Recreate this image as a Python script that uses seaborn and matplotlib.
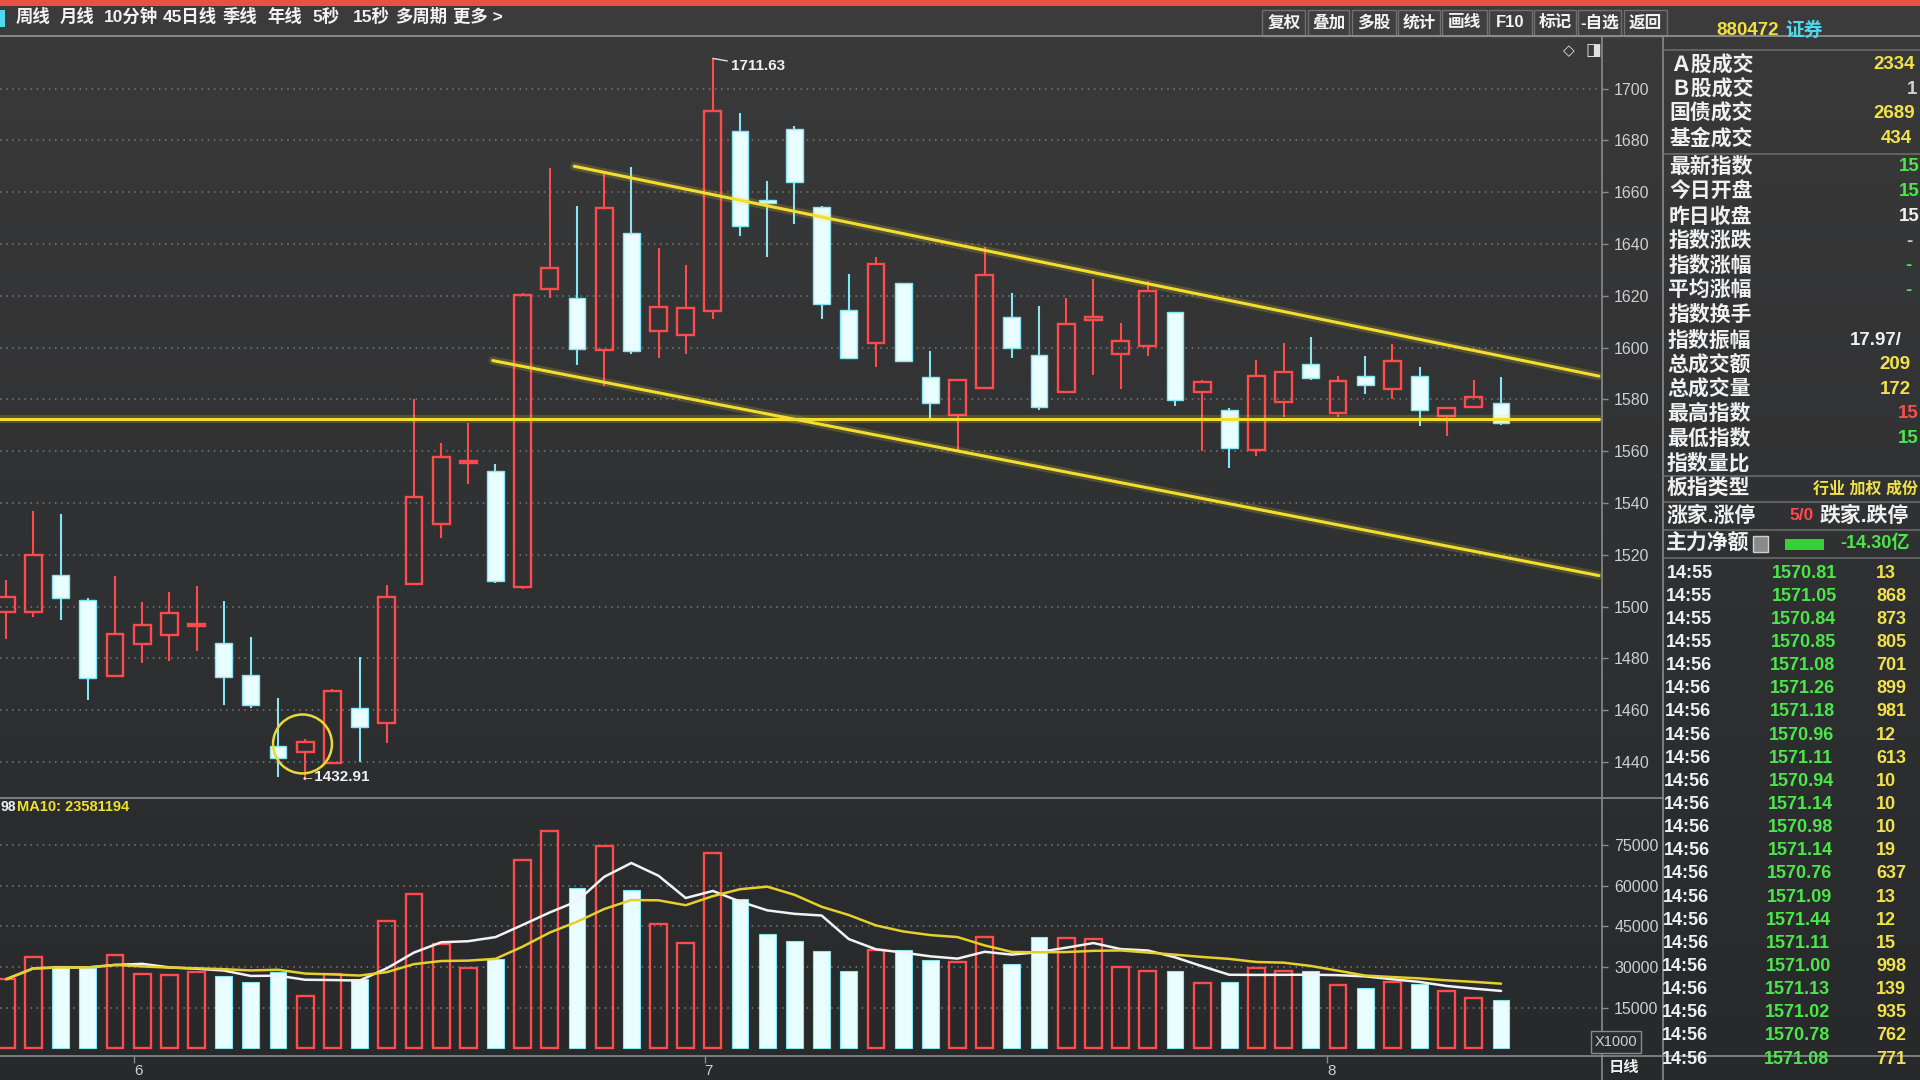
import numpy as np
import pandas as pd
import matplotlib.pyplot as plt
import seaborn as sns
from matplotlib.colors import LinearSegmentedColormap
from matplotlib.lines import Line2D
from matplotlib.patches import Rectangle

sns.set_theme(style="dark")
plt.rcParams['font.family'] = ['Liberation Sans', 'Noto Sans CJK SC', 'DejaVu Sans']
plt.rcParams['axes.unicode_minus'] = False

# ---- 日K线数据 (880472 证券) ----
opens = [1498.0, 1498.0, 1512.3, 1502.5, 1473.2, 1485.6, 1488.9, 1492.4, 1486.0, 1473.5,
         1446.1, 1443.9, 1439.5, 1460.8, 1455.0, 1508.7, 1532.1, 1555.5, 1552.5, 1507.6,
         1622.6, 1619.1, 1599.1, 1644.4, 1606.4, 1605.0, 1614.0, 1683.8, 1656.8, 1684.5,
         1654.4, 1614.7, 1601.6, 1624.8, 1588.5, 1574.0, 1584.3, 1612.0, 1597.1, 1582.8,
         1610.5, 1597.7, 1600.6, 1613.7, 1582.8, 1575.9, 1560.3, 1578.9, 1593.6, 1574.6,
         1588.9, 1584.1, 1588.9, 1573.7, 1577.2, 1578.5]
highs = [1510.4, 1537.0, 1535.8, 1503.5, 1511.7, 1501.9, 1505.8, 1507.8, 1502.2, 1488.2,
         1464.8, 1449.1, 1468.3, 1480.4, 1508.4, 1580.0, 1563.1, 1571.0, 1555.0, 1621.0,
         1669.3, 1654.8, 1667.2, 1669.6, 1638.6, 1631.7, 1711.63, 1690.7, 1664.5, 1685.6,
         1654.6, 1628.5, 1635.0, 1625.0, 1598.5, 1587.6, 1638.9, 1621.0, 1615.9, 1619.2,
         1626.3, 1609.4, 1625.7, 1613.9, 1587.6, 1576.7, 1595.1, 1601.6, 1604.2, 1588.9,
         1596.7, 1601.2, 1592.5, 1576.5, 1587.6, 1588.6]
lows = [1487.6, 1496.0, 1494.7, 1464.1, 1473.0, 1478.4, 1479.1, 1483.0, 1462.1, 1460.8,
        1434.1, 1432.91, 1439.3, 1440.0, 1447.4, 1508.5, 1526.6, 1547.5, 1509.0, 1507.0,
        1619.3, 1593.3, 1585.0, 1597.4, 1595.8, 1597.7, 1611.0, 1643.0, 1635.0, 1647.9,
        1611.0, 1595.8, 1592.6, 1594.5, 1572.6, 1560.1, 1584.0, 1596.0, 1575.9, 1582.6,
        1589.3, 1584.1, 1596.7, 1577.6, 1560.0, 1553.5, 1558.1, 1573.3, 1587.6, 1573.3,
        1581.9, 1580.2, 1569.8, 1565.9, 1576.9, 1570.2]
closes = [1503.8, 1520.1, 1503.2, 1472.6, 1489.5, 1492.8, 1497.7, 1493.0, 1473.0, 1462.1,
          1441.7, 1447.8, 1467.4, 1453.7, 1503.8, 1542.5, 1557.9, 1556.2, 1510.0, 1620.2,
          1630.6, 1599.5, 1653.8, 1598.5, 1615.8, 1615.1, 1691.4, 1646.9, 1656.0, 1664.1,
          1616.8, 1596.1, 1632.3, 1594.7, 1578.8, 1587.5, 1627.9, 1600.0, 1577.2, 1609.0,
          1612.0, 1602.7, 1621.8, 1579.8, 1586.9, 1561.1, 1588.9, 1590.6, 1588.4, 1587.3,
          1585.6, 1594.7, 1575.9, 1576.5, 1580.8, 1570.8]
# 成交量 (X1000)
volumes = [25500, 33500, 30500, 29800, 34500, 27500, 27000, 28000, 26500, 24500,
           28000, 19500, 27500, 25500, 47000, 57000, 38500, 29500, 33000, 69500,
           80000, 59000, 74500, 58500, 46000, 39000, 72000, 55000, 42300, 39600,
           35900, 28600, 36200, 36300, 32600, 31700, 41200, 31000, 41000, 40600,
           40300, 30100, 28400, 28500, 24100, 24600, 29800, 28600, 28700, 23300,
           22300, 24600, 23600, 21200, 18500, 18000]

# 画线 (K线序号, 指数)
upper_x = [20.9, 58.6]
upper_y = [1670.0, 1589.0]
lower_x = [17.9, 58.6]
lower_y = [1595.0, 1512.0]
flat_x = [-0.5, 58.6]
flat_y = [1572.5, 1572.5]

month_pos = [4.7, 25.7, 48.6]
month_labels = ['6', '7', '8']

price_ticks = list(range(1440, 1701, 20))
vol_ticks = [15000, 30000, 45000, 60000, 75000]

menu_items = ['周线', '月线', '10分钟', '45日线', '季线', '年线', '5秒', '15秒', '多周期', '更多 >']
menu_x = [13, 49, 85, 133, 182, 218, 255, 288, 323, 370]
tool_items = ['复权', '叠加', '多股', '统计', '画线', 'F10', '标记', '-自选', '返回']
tool_edges = [1030, 1067, 1103, 1141, 1177, 1215, 1252, 1288, 1325, 1362]

info_labels = ['Ａ股成交', 'Ｂ股成交', '国债成交', '基金成交', '最新指数', '今日开盘', '昨日收盘',
               '指数涨跌', '指数涨幅', '平均涨幅', '指数换手', '指数振幅', '总成交额', '总成交量',
               '最高指数', '最低指数', '指数量比', '板指类型', '涨家.涨停', '主力净额']
info_y = [53, 73, 93, 113, 136, 156, 177, 197, 217, 237, 257, 278, 298, 318, 338, 358, 378,
          399, 421, 444]

tick_times = ['14:55'] * 4 + ['14:56'] * 18
tick_prices = ['1570.81', '1571.05', '1570.84', '1570.85', '1571.08', '1571.26', '1571.18',
               '1570.96', '1571.11', '1570.94', '1571.14', '1570.98', '1571.14', '1570.76',
               '1571.09', '1571.44', '1571.11', '1571.00', '1571.13', '1571.02', '1570.78',
               '1571.08']
tick_vols = ['13', '868', '873', '805', '701', '899', '981', '12', '613', '10', '10', '10',
             '19', '637', '13', '12', '15', '998', '139', '935', '762', '771']

RED = '#ff4b4b'
CYAN_EDGE = '#86e6f4'
CYAN_FILL = '#e8feff'
YEL = '#f3dd30'
GREEN = '#4ae64a'
NUMYEL = '#f2e24a'
WHITE = '#f0f0f0'
GRID = '#7a7a7a'
FRAME = '#8a8a8a'
AXTXT = '#cfcfcf'

W, H = 1568.0, 882.0


def fx(xd):
    return xd / W


def fy(yd):
    return 1 - yd / H


fig = plt.figure(figsize=(19.2, 10.8), dpi=100)
fig.patch.set_facecolor('#2c2d2e')


def put(xd, yd, s, **kw):
    kw.setdefault('va', 'center')
    kw.setdefault('ha', 'left')
    return fig.text(fx(xd), fy(yd), s, **kw)


def fline(xs, ys, color=FRAME, lw=1.2):
    fig.add_artist(Line2D([fx(x) for x in xs], [fy(y) for y in ys],
                          transform=fig.transFigure, color=color, lw=lw))


# 背景 (屏幕照片的明暗)
bg = fig.add_axes([0, 0, 1, 1], zorder=-10)
bg_cmap = LinearSegmentedColormap.from_list('bg', ['#3a3a3b', '#303132', '#27292a'])
bg.imshow(np.linspace(0, 1, 256)[:, None], aspect='auto', cmap=bg_cmap, extent=[0, 1, 0, 1])
bg.axis('off')

# 顶部工具栏
fig.add_artist(Rectangle((0, fy(5)), 1, 1 - fy(5), transform=fig.transFigure,
                         facecolor='#e8503f', edgecolor='none'))
fig.add_artist(Rectangle((0, fy(29)), 1, fy(5) - fy(29), transform=fig.transFigure,
                         facecolor='#3b3b3b', edgecolor='none'))
fline([0, W], [29, 29], '#8f8f8f', 1.3)
fig.add_artist(Rectangle((0, fy(22)), fx(4), fy(8) - fy(22), transform=fig.transFigure,
                         facecolor='#4fd8ee', edgecolor='none'))
for s, x in zip(menu_items, menu_x):
    put(x, 13.5, s, color='#f2f2f2', fontsize=12.5, fontweight='bold')
for k, s in enumerate(tool_items):
    x0, x1 = tool_edges[k], tool_edges[k + 1]
    fig.add_artist(Rectangle((fx(x0 + 1), fy(29)), fx(x1 - x0 - 2), fy(8) - fy(29),
                             transform=fig.transFigure, facecolor='#3f3f3f',
                             edgecolor='#707070', lw=1))
    put((x0 + x1) / 2, 18.5, s, ha='center', color='#f2f2f2', fontsize=12, fontweight='bold')
put(1281, 41, '◇', ha='center', color='#e0e0e0', fontsize=11, family=['DejaVu Sans'])
put(1301, 41, '◨', ha='center', color='#e0e0e0', fontsize=12, family=['DejaVu Sans'])

# ---- K线 ----
ax_p = fig.add_axes([0, fy(652), fx(1308), fy(30) - fy(652)])
ax_p.set_facecolor('none')
idx = np.arange(len(opens))
o = np.array(opens)
c = np.array(closes)
hi = np.array(highs)
lo = np.array(lows)
up = c >= o
b_lo = np.minimum(o, c)
b_hi = np.maximum(o, c)
b_h = np.maximum(b_hi - b_lo, 0.9)
wick_col = np.where(up, RED, CYAN_EDGE)

ax_p.vlines(idx, lo, b_lo, colors=wick_col, lw=1.5, zorder=3)
ax_p.vlines(idx, b_lo + b_h, hi, colors=wick_col, lw=1.5, zorder=3)
ax_p.bar(idx[up], b_h[up], bottom=b_lo[up], width=0.62, facecolor='none',
         edgecolor=RED, linewidth=1.7, zorder=4)
ax_p.bar(idx[~up], b_h[~up], bottom=b_lo[~up], width=0.62, facecolor=CYAN_FILL,
         edgecolor=CYAN_EDGE, linewidth=1.0, zorder=4)

for xs, ys in [(upper_x, upper_y), (lower_x, lower_y), (flat_x, flat_y)]:
    sns.lineplot(x=xs, y=ys, color=YEL, lw=6, alpha=0.18, ax=ax_p, zorder=4)
    sns.lineplot(x=xs, y=ys, color=YEL, lw=2.2, ax=ax_p, zorder=5)

ax_p.annotate('1711.63', xy=(26, 1711.63), xytext=(26.65, 1708.6), color=WHITE,
              fontsize=11, fontweight='bold', va='center',
              arrowprops=dict(arrowstyle='-', color='#e0e0e0', lw=1, shrinkA=0, shrinkB=0))
ax_p.text(10.8, 1434.3, '←1432.91', color=WHITE, fontsize=11, fontweight='bold',
          va='center', ha='left', zorder=6)
ax_p.scatter([10.9], [1447.0], s=1800, facecolors='none', edgecolors='#e8d838',
             linewidths=1.8, zorder=6)

ax_p.set_xlim(-0.23, 58.7)
ax_p.set_ylim(1426, 1720)
ax_p.set_xticks([])
ax_p.set_yticks(price_ticks)
ax_p.yaxis.tick_right()
ax_p.tick_params(axis='y', colors=FRAME, labelcolor=AXTXT, labelsize=11.5, length=4,
                 width=1, pad=5, direction='out')
ax_p.grid(axis='y', ls=(0, (1, 3)), color=GRID, lw=1.1)
ax_p.grid(axis='x', visible=False)
ax_p.set_axisbelow(True)
ax_p.set_xlabel('')
ax_p.set_ylabel('')
for sp in ax_p.spines.values():
    sp.set_visible(False)

# ---- 成交量 ----
ax_v = fig.add_axes([0, fy(862), fx(1308), fy(652) - fy(862)])
ax_v.set_facecolor('none')
vol_df = pd.DataFrame({'day': idx, 'vol': volumes, 'dir': np.where(up, 'up', 'down')})
sns.barplot(data=vol_df[vol_df['dir'] == 'up'], x='day', y='vol', native_scale=True,
            fill=False, color=RED, linewidth=1.7, width=0.62, saturation=1,
            errorbar=None, ax=ax_v)
sns.barplot(data=vol_df[vol_df['dir'] == 'down'], x='day', y='vol', native_scale=True,
            color=CYAN_FILL, edgecolor=CYAN_EDGE, linewidth=0.8, width=0.62, saturation=1,
            errorbar=None, ax=ax_v)
vol_s = pd.Series(volumes, dtype=float)
ma5 = vol_s.rolling(5, min_periods=1).mean()
ma10 = vol_s.rolling(10, min_periods=1).mean()
sns.lineplot(x=idx, y=ma5.values, color='#f2f2f2', lw=1.8, ax=ax_v, zorder=5)
sns.lineplot(x=idx, y=ma10.values, color='#e6cf2a', lw=1.8, ax=ax_v, zorder=5)

ax_v.set_xlim(-0.23, 58.7)
ax_v.set_ylim(-2600, 92100)
ax_v.set_yticks(vol_ticks)
ax_v.set_yticklabels([str(v) for v in vol_ticks])
ax_v.yaxis.tick_right()
ax_v.tick_params(axis='y', colors=FRAME, labelcolor=AXTXT, labelsize=11.5, length=4,
                 width=1, pad=5, direction='out')
ax_v.set_xticks(month_pos)
ax_v.set_xticklabels(month_labels)
ax_v.tick_params(axis='x', colors=FRAME, labelcolor=AXTXT, labelsize=11, length=5,
                 width=1, pad=1, direction='out', bottom=True)
for lbl in ax_v.get_xticklabels():
    lbl.set_ha('left')
ax_v.grid(axis='y', ls=(0, (1, 3)), color=GRID, lw=1.1)
ax_v.grid(axis='x', visible=False)
ax_v.set_axisbelow(True)
ax_v.set_xlabel('')
ax_v.set_ylabel('')
for sp in ax_v.spines.values():
    sp.set_visible(False)

put(0.5, 659, '98', color=WHITE, fontsize=10, fontweight='bold')
put(14, 659, 'MA10: 23581194', color='#f2e030', fontsize=10.5, fontweight='bold')
put(1320, 851, 'X1000', ha='center', color=AXTXT, fontsize=10.5,
    bbox=dict(boxstyle='square,pad=0.25', facecolor='#2b2c2d', edgecolor=FRAME, lw=1))
put(1314, 872, '日线', color=WHITE, fontsize=11, fontweight='bold')

# 框线
fline([1308, 1308], [29, 882])
fline([1358, 1358], [29, 882])
fline([0, 1358], [652, 652])
fline([0, W], [862, 862])
for y in [41, 126, 389, 410, 433, 456]:
    fline([1358, W], [y, y], '#6e6e6e', 1.1)

# ---- 右侧信息栏 ----
put(1402, 25, '880472', color='#f0e040', fontsize=13.5, fontweight='bold')
put(1458, 25, '证券', color='#4fd8ee', fontsize=13.5, fontweight='bold')
for s, y in zip(info_labels, info_y):
    put(1364 - (y - 53) * 0.008, y, s, color=WHITE, fontsize=15, fontweight='bold')

info_vals = [(53, 1530, '2334', NUMYEL), (73, 1557, '1', '#d0d0d0'),
             (93, 1530, '2689', NUMYEL), (113, 1536, '434', NUMYEL),
             (136, 1551, '15', GREEN), (156, 1551, '15', GREEN), (177, 1551, '15', WHITE),
             (197, 1557, '-', '#d0d0d0'), (217, 1556, '-', GREEN), (237, 1556, '-', GREEN),
             (278, 1511, '17.97/', WHITE), (298, 1535, '209', NUMYEL),
             (318, 1535, '172', NUMYEL), (338, 1550, '15', RED), (358, 1550, '15', GREEN)]
for y, x, s, col in info_vals:
    put(x, y, s, color=col, fontsize=13.5, fontweight='bold')
put(1481, 399, '行业 加权 成份', color=NUMYEL, fontsize=11.5, fontweight='bold')
put(1461, 421, '5/0', color=RED, fontsize=12.5, fontweight='bold')
put(1486, 421, '跌家.跌停', color=WHITE, fontsize=15, fontweight='bold')
fig.add_artist(Rectangle((fx(1432), fy(451)), fx(12), fy(438) - fy(451),
                         transform=fig.transFigure, facecolor='#8a8a8a',
                         edgecolor='#cfcfcf', lw=1))
fig.add_artist(Rectangle((fx(1458), fy(449)), fx(32), fy(440) - fy(449),
                         transform=fig.transFigure, facecolor='#35d035', edgecolor='none'))
put(1503, 444, '-14.30亿', color=GREEN, fontsize=13, fontweight='bold')

for k, (t, p, v) in enumerate(zip(tick_times, tick_prices, tick_vols)):
    y = 468 + k * 18.9
    put(1361 - k * 0.2, y, t, color=WHITE, fontsize=13, fontweight='bold')
    put(1447 - k * 0.3, y, p, color=GREEN, fontsize=13, fontweight='bold')
    put(1532, y, v, color=NUMYEL, fontsize=13, fontweight='bold')

fig.savefig('out.png', dpi=100, facecolor=fig.get_facecolor())
